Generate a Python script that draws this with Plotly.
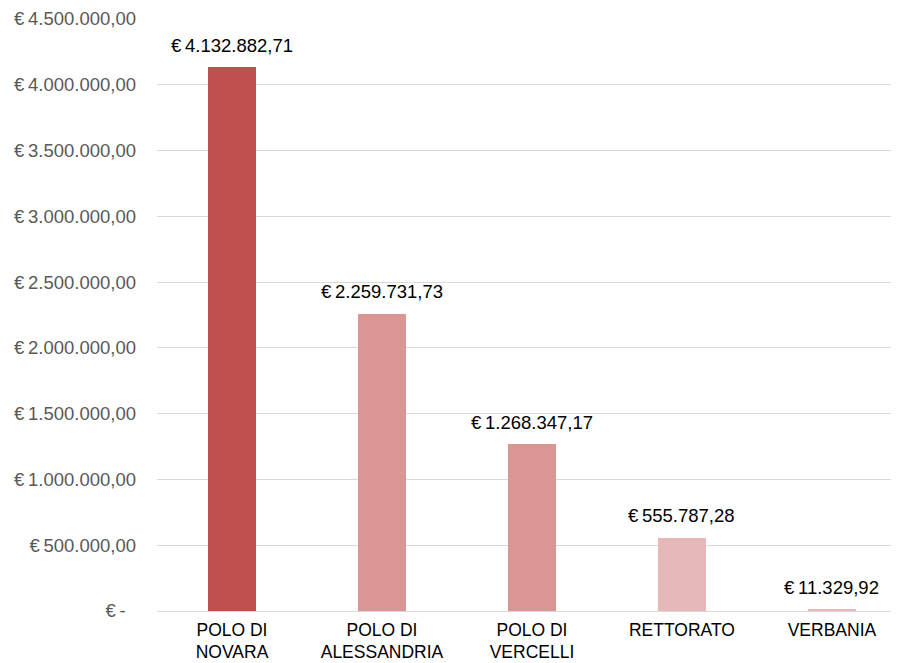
import plotly.graph_objects as go

categories = ["POLO DI<br>NOVARA", "POLO DI<br>ALESSANDRIA", "POLO DI<br>VERCELLI", "RETTORATO", "VERBANIA"]
values = [4132882.71, 2259731.73, 1268347.17, 555787.28, 11329.92]
bar_colors = ["#C0504D", "#D99694", "#D99694", "#E6B9B8", "#E6B9B8"]
tick_values = [0, 500000, 1000000, 1500000, 2000000, 2500000, 3000000, 3500000, 4000000, 4500000]


def eur(v):
    s = f"{v:,.2f}"
    s = s.replace(",", "X").replace(".", ",").replace("X", ".")
    return "€\u2009" + s


tick_text = [eur(v) if v else "€\u2009-\u00a0\u00a0" for v in tick_values]
data_labels = [eur(v) for v in values]

x = list(range(len(categories)))

fig = go.Figure()
fig.add_trace(go.Bar(
    x=x, y=values, marker=dict(color=bar_colors, line=dict(width=0)),
    width=0.315, hoverinfo="skip",
))

for xi, v, t in zip(x, values, data_labels):
    fig.add_annotation(x=xi, y=v, text=t, showarrow=False, yanchor="middle",
                       yshift=22, font=dict(size=18.5, color="#000000"))

# page body adds an 8px offset; size the figure so it fills the window exactly
fig.update_layout(
    width=891, height=655,
    margin=dict(l=149, r=0, t=11, b=52),
    paper_bgcolor="white", plot_bgcolor="white",
    font=dict(family="Liberation Sans, Arial, sans-serif", size=17.5),
    showlegend=False,
    bargap=0,
)
fig.update_xaxes(
    range=[-0.5, 4.447], tickvals=x, ticktext=categories,
    showgrid=False, showline=False, zeroline=False, ticks="",
    ticklabelstandoff=6, automargin=False,
    tickfont=dict(size=17.5, color="#000000"),
)
fig.update_yaxes(
    range=[0, 4500000], tickvals=tick_values, ticktext=tick_text,
    showgrid=True, gridcolor="#D9D9D9", gridwidth=1.3,
    zeroline=True, zerolinecolor="#D9D9D9", zerolinewidth=1.3,
    showline=False, ticks="", ticklabelstandoff=20, automargin=False,
    tickfont=dict(size=18.5, color="#595959"),
)

fig.write_html("out.html")
